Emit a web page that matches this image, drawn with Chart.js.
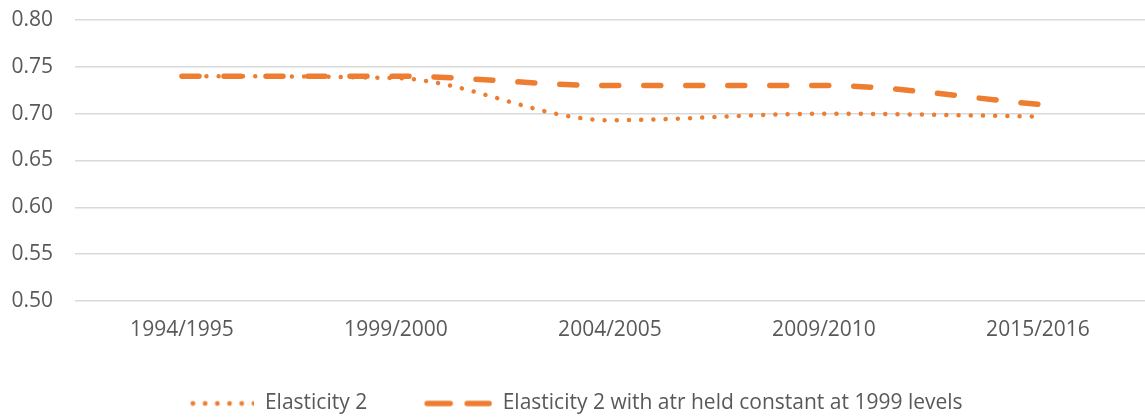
<!DOCTYPE html>
<html>
<head>
<meta charset="utf-8">
<script src="https://cdn.jsdelivr.net/npm/chart.js@4/dist/chart.umd.min.js"></script>
<style>
  html, body { margin: 0; padding: 0; background: #ffffff; }
  #wrap { width: 1145px; height: 418px; }
</style>
</head>
<body>
<div id="wrap"><canvas id="c"></canvas></div>
<script>
// Periods on the horizontal axis
const periods = ['1994/1995', '1999/2000', '2004/2005', '2009/2010', '2015/2016'];
// Elasticity estimates per period
const elasticity2 = [0.740, 0.738, 0.693, 0.700, 0.697];
const elasticity2ConstAtr = [0.740, 0.740, 0.730, 0.730, 0.710];
// Series names
const seriesNames = ['Elasticity 2', 'Elasticity 2 with atr held constant at 1999 levels'];
// Value axis ticks
const yTicks = [0.50, 0.55, 0.60, 0.65, 0.70, 0.75, 0.80];

const ORANGE = '#ED7D31';
const TEXT = '#595959';
const FONT = '"Open Sans", "Liberation Sans", sans-serif';
const FONT_SIZE = 21;
const SYMBOL_W = 72;

// Legend symbols: a row of dots, and two short dashes
function symbol(draw) {
  const cv = document.createElement('canvas');
  cv.width = SYMBOL_W; cv.height = 12;
  const g = cv.getContext('2d');
  g.strokeStyle = ORANGE;
  g.fillStyle = ORANGE;
  draw(g);
  return cv;
}
const dotSymbol = symbol(g => {
  for (let i = 0; i < 6; i++) {
    g.beginPath();
    g.arc(SYMBOL_W - 64 + 2.5 + i * 12.2, 6, 2.4, 0, Math.PI * 2);
    g.fill();
  }
});
const dashSymbol = symbol(g => {
  g.lineWidth = 5.5;
  g.lineCap = 'round';
  g.beginPath();
  g.moveTo(SYMBOL_W - 68 + 3, 6); g.lineTo(SYMBOL_W - 42, 6);
  g.moveTo(SYMBOL_W - 25, 6); g.lineTo(SYMBOL_W - 3, 6);
  g.stroke();
});

new Chart(document.getElementById('c'), {
  type: 'line',
  data: {
    labels: periods,
    datasets: [
      {
        label: seriesNames[0],
        data: elasticity2,
        borderColor: ORANGE,
        backgroundColor: ORANGE,
        borderWidth: 4.5,
        borderDash: [0.01, 12.2],
        borderCapStyle: 'round',
        pointRadius: 0,
        cubicInterpolationMode: 'monotone',
        fill: false
      },
      {
        label: seriesNames[1],
        data: elasticity2ConstAtr,
        borderColor: ORANGE,
        backgroundColor: ORANGE,
        borderWidth: 5.5,
        borderDash: [17, 25],
        borderCapStyle: 'round',
        pointRadius: 0,
        cubicInterpolationMode: 'monotone',
        fill: false
      }
    ]
  },
  options: {
    responsive: true,
    maintainAspectRatio: false,
    animation: false,
    layout: { padding: { top: 0, right: 0, bottom: 0, left: 0 } },
    plugins: {
      tooltip: { enabled: false },
      legend: {
        position: 'bottom',
        maxHeight: 78,
        labels: {
          usePointStyle: true,
          pointStyleWidth: SYMBOL_W,
          padding: 53,
          color: TEXT,
          font: { family: FONT, size: FONT_SIZE },
          generateLabels(chart) {
            const items = Chart.defaults.plugins.legend.labels.generateLabels(chart);
            const symbols = [dotSymbol, dashSymbol];
            items.forEach((it, i) => { it.pointStyle = symbols[i]; });
            return items;
          }
        }
      }
    },
    scales: {
      x: {
        offset: true,
        grid: { display: false },
        border: { display: false },
        ticks: { color: TEXT, font: { family: FONT, size: FONT_SIZE }, padding: 8, maxRotation: 0 },
        afterFit(scale) { scale.height = 39; }
      },
      y: {
        min: yTicks[0],
        max: yTicks[yTicks.length - 1],
        afterBuildTicks(scale) { scale.ticks = yTicks.map(v => ({ value: v })); },
        grid: { color: '#d9d9d9', lineWidth: 1.5, drawTicks: false },
        border: { display: false },
        ticks: {
          color: TEXT,
          font: { family: FONT, size: FONT_SIZE },
          padding: 22,
          callback: v => Number(v).toFixed(2)
        },
        afterFit(scale) {
          scale.width = 75;
          scale.paddingTop = 20;
          scale.paddingBottom = 0;
        }
      }
    }
  }
});
</script>
</body>
</html>
